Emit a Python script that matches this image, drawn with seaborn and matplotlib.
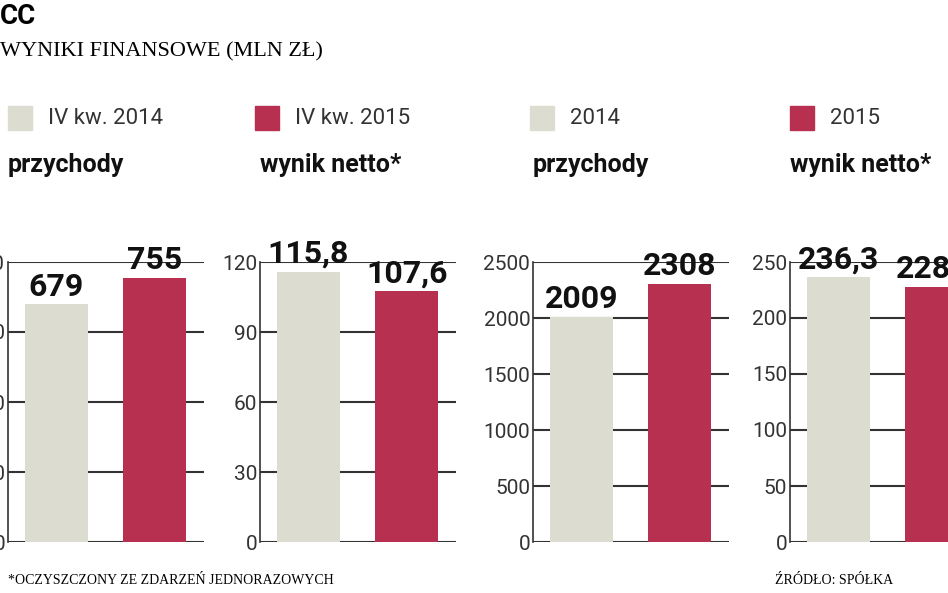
import matplotlib
matplotlib.use("Agg")
import matplotlib.pyplot as plt
import seaborn as sns
import pandas as pd

GRAY = "#dcdcd0"
RED = "#b8304f"

labels_q = ["IV kw. 2014", "IV kw. 2015"]
labels_y = ["2014", "2015"]
rev_q = [679, 755]
net_q = [115.8, 107.6]
rev_y = [2009, 2308]
net_y = [236.3, 228.0]

panels = [
    ("przychody", labels_q, rev_q, [0, 200, 400, 600, 800], 8),
    ("wynik netto*", labels_q, net_q, [0, 30, 60, 90, 120], 260),
    ("przychody", labels_y, rev_y, [0, 500, 1000, 1500, 2000, 2500], 533),
    ("wynik netto*", labels_y, net_y, [0, 50, 100, 150, 200, 250], 790),
]

plt.rcParams["font.family"] = "Roboto"
W, H = 948, 593
fig = plt.figure(figsize=(9.48, 5.93), dpi=100)
fig.patch.set_facecolor("white")

bottom, top = 542, 262
for title, cats, vals, ticks, ax_x in panels:
    ax = fig.add_axes([ax_x / W, 1 - bottom / H, 196 / W, (bottom - top) / H])
    df = pd.DataFrame({"cat": cats, "val": vals})
    sns.barplot(data=df, x="cat", y="val", hue="cat", palette=[GRAY, RED],
                saturation=1, width=0.64, legend=False, ax=ax, zorder=2)
    ax.set_xlim(-0.49, 1.5)
    ax.set_ylim(0, ticks[-1])
    ax.set_yticks(ticks)
    ax.set_yticklabels([str(t) for t in ticks], fontsize=15, color="#333333")
    ax.set_xticks([])
    ax.set_xlabel("")
    ax.set_ylabel("")
    ax.tick_params(axis="y", length=0, pad=2)
    for t in ticks:
        ax.axhline(t, color="#333333", lw=1.5, zorder=1)
    for s in ["top", "right", "bottom"]:
        ax.spines[s].set_visible(False)
    ax.spines["left"].set_color("#333333")
    ax.spines["left"].set_linewidth(1.2)
    for i, v in enumerate(vals):
        txt = f"{v:.1f}".replace(".", ",") if isinstance(v, float) else str(v)
        ax.text(i, v + ticks[-1] * 0.01, txt, ha="center", va="bottom",
                fontsize=23, fontweight="bold", color="#111111", clip_on=False)
    fig.text(ax_x / W, 1 - 165 / H, title, fontsize=18, fontweight="bold",
             va="center", ha="left", color="#111111")

# legend
legend_items = [(8, GRAY, "IV kw. 2014"), (255, RED, "IV kw. 2015"),
                (530, GRAY, "2014"), (790, RED, "2015")]
for x, c, lab in legend_items:
    fig.patches.append(plt.Rectangle((x / W, 1 - 130 / H), 24 / W, 24 / H,
                                     transform=fig.transFigure, color=c))
    fig.text((x + 40) / W, 1 - 118 / H, lab, fontsize=16, va="center",
             color="#333333")

fig.text(0.0, 1 - 16 / H, "CC", fontsize=20, fontweight="bold", va="center")
fig.text(0.0, 1 - 52 / H, "WYNIKI FINANSOWE (MLN ZŁ)", fontsize=16,
         family="Liberation Serif", va="center")
fig.text(8 / W, 1 - 580 / H, "*OCZYSZCZONY ZE ZDARZEŃ JEDNORAZOWYCH",
         fontsize=10, family="Liberation Serif", va="center")
fig.text(775 / W, 1 - 580 / H, "ŹRÓDŁO: SPÓŁKA",
         fontsize=10, family="Liberation Serif", va="center")

fig.savefig("out.png", dpi=100)
